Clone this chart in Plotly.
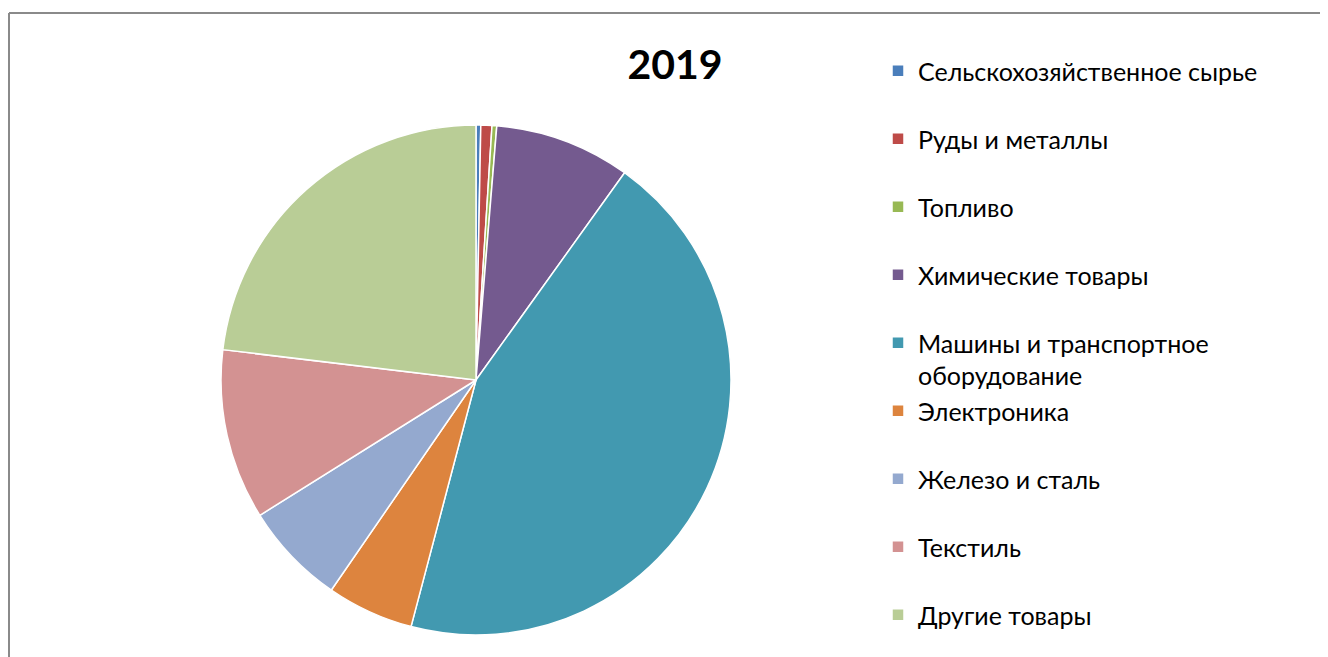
import plotly.graph_objects as go

# data
categories = ["Сельскохозяйственное сырье", "Руды и металлы", "Топливо",
              "Химические товары", "Машины и транспортное<br>оборудование",
              "Электроника", "Железо и сталь", "Текстиль", "Другие товары"]
shares = [0.3, 0.7, 0.3, 8.6, 44.2, 5.5, 6.5, 10.8, 23.1]
colors = ["#4A7EBB", "#BE4B48", "#98B954", "#745A8F", "#4299B0",
          "#DD843E", "#94A9CF", "#D39292", "#B9CD96"]

# pad single-line labels (except the last) to two lines so legend rows are evenly spaced
labels = [c if ("<br>" in c or i == len(categories) - 1) else c + "<br> "
          for i, c in enumerate(categories)]

W, H = 1328, 657

fig = go.Figure()
fig.add_trace(go.Pie(
    labels=labels, values=shares,
    sort=False, direction="clockwise", rotation=0,
    marker=dict(colors=colors, line=dict(color="white", width=1.5)),
    textinfo="none", hoverinfo="label+percent",
    domain=dict(x=[213/W, 723/W], y=[30/H, 540/H]),
))

# chart frame (only top and left edges are visible in the crop)
frame = dict(color="#8A8A8A", width=2)
fig.update_layout(
    width=W, height=H,
    margin=dict(l=0, r=0, t=0, b=0),
    paper_bgcolor="white",
    font=dict(family="Lato, Noto Sans, sans-serif", color="black"),
    title=dict(text="<b>2019</b>", x=667/W, xanchor="center",
               y=1 - 57/H, yanchor="middle", font=dict(size=41)),
    legend=dict(x=870/W, xanchor="left", y=1 - 40/H, yanchor="top",
                valign="top", font=dict(size=25), itemclick=False),
    shapes=[
        dict(type="line", xref="paper", yref="paper",
             x0=1/W, x1=1.2, y0=1 - 5/H, y1=1 - 5/H, line=frame),
        dict(type="line", xref="paper", yref="paper",
             x0=1/W, x1=1/W, y0=-0.2, y1=1 - 5/H, line=frame),
    ],
)

fig.write_html("out.html")
